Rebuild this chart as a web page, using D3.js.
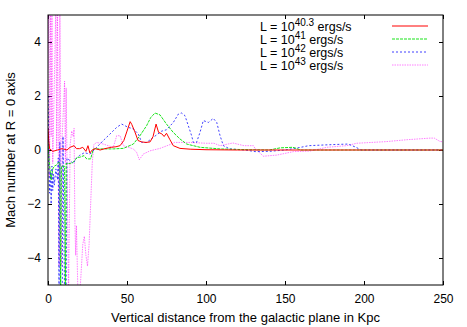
<!DOCTYPE html>
<html>
<head>
<meta charset="utf-8">
<script src="https://cdn.jsdelivr.net/npm/d3@7"></script>
<style>
    body { margin: 0; background: #fff; }
    text { font-family: "Liberation Sans", Arial, sans-serif; fill: #000; }
</style>
</head>
<body>
<div id="chart"></div>
<script>

// tick values
var xTicks = [0, 50, 100, 150, 200, 250];
var yTicks = [-4, -2, 0, 2, 4];

// legend exponents
var exponents = ["40.3", "41", "42", "43"];

// series: [distance (Kpc), Mach number]
var red = [[0,0.8],[0.5,0.3],[1,0.05],[3,-0.05],[6,0],[9,0.05],[12,0],[14,0.1],[16.5,0.16],[18,0.05],[20,0.05],
    [22,0.1],[24,-0.05],[25.3,0.16],[26.5,-0.11],[28,0],[30,0.05],[33,0],[36,0.05],[40,0.1],[43,0.12],[45.6,0.16],
    [48,0.35],[50,0.7],[52,1.05],[53,0.95],[55,0.67],[57,0.35],[59.3,0.3],[62,0.28],[64.6,0.3],[66.5,0.5],
    [68.4,0.96],[70,0.65],[72,0.6],[73.5,0.5],[75,0.62],[77,0.4],[79.3,0.16],[83.5,0.06],[90,0.03],[100,0.01],
    [120,0],[250,0]];

var green = [[0,0.3],[1,-0.6],[2,-1.1],[3,-0.7],[4,-0.6],[5.5,-0.55],[7,-0.45],[7.5,-0.5],[8,-5.5],[8.5,-0.6],
    [10.5,-0.6],[11,-5.5],[11.5,-0.5],[14,-0.5],[16,-0.45],[18.5,-0.27],[20,-0.27],[22.8,-0.21],[24.5,-0.33],
    [27,-0.33],[28.7,0.04],[35,0.04],[41.3,0.04],[47.7,0.06],[54,0.22],[58.2,0.53],[62.4,0.9],[65,1.2],
    [67.7,1.37],[70.9,1.3],[75,0.96],[79.3,0.65],[83.5,0.41],[87.8,0.22],[96.2,0.1],[108.9,0.04],[120,0.02],
    [140,0],[147,0.08],[155,0.1],[160,0],[250,0]];

var blue = [[0,2],[0.5,-0.5],[1,-1.6],[1.5,-0.8],[2,-2],[2.5,-0.6],[3,-1.5],[3.5,-0.9],[4,-1.3],[5,-0.7],
    [6,-1.1],[6.5,-0.3],[7,-5.5],[7.5,0.3],[8,-5.5],[9,-5.5],[9.5,0.5],[10.5,-5.5],[11.5,-5.5],[12,-0.3],
    [14,-0.4],[16,-0.5],[18,-0.3],[20,-0.2],[23,-0.1],[26.6,-0.15],[30.8,0.1],[35,0.35],[39.2,0.59],[43.5,0.84],
    [46.6,0.96],[50.8,0.84],[54,0.78],[57.2,0.59],[59.3,0.28],[62.4,0.28],[66.7,0.47],[72,0.7],[75,0.75],
    [79.3,1.02],[82.5,1.33],[84.6,1.37],[86.7,1.27],[88.8,0.9],[90.9,0.53],[92,0.28],[94,0.28],[96.2,0.65],
    [98.3,1.09],[101.5,1.02],[104.6,1.17],[106.8,1.02],[108.9,0.53],[111,0.16],[115,0.04],[125,0],[131,-0.06],
    [140,-0.05],[150,0],[160,0.1],[165,0.16],[180,0.2],[190,0.22],[195,0.1],[198,0],[250,0]];

var magenta = [[0,3],[0.5,5.5],[1,-1],[1.5,5.5],[2,0.5],[2.5,5.5],[3,-0.5],[5,5.5],[5.5,0],[6,5.5],[7,-4.3],
    [7.5,5.5],[8.5,-4.3],[9,0.5],[10.5,2.55],[11,-0.5],[11.5,2.3],[12,-0.3],[13,-5.5],[14,0.2],[15,0.7],[16,0.5],
    [16.5,0.8],[17,-2.6],[17.5,-3.9],[18,-2.8],[19,-5.5],[20,-5.5],[21,-4.5],[22,-3.5],[23,-3.2],[24,-3.9],
    [25,-4.3],[26,-3.5],[27,-2],[28,-0.5],[29,0.2],[30.8,0.28],[35,0.22],[41.3,0.1],[43.5,0.53],[45.6,0.53],
    [47.7,0.16],[54,0.04],[56.1,-0.09],[57.8,-0.36],[60.3,-0.15],[64.6,-0.03],[70.9,0.06],[77.2,0.2],[80,0.28],
    [90,0.28],[100,0.25],[105,0.25],[108.9,0.16],[117,0.26],[124,0.16],[130,0.16],[131,0.06],[136.3,-0.23],
    [144.7,-0.19],[155.3,-0.06],[165.8,-0.04],[176.4,0.1],[189,0.16],[195.4,0.25],[214,0.31],[227,0.38],
    [241.8,0.44],[244.5,0.44],[248,0.32],[250,0.3]];

var series = [
    {data: red, color: "#ff0000", dash: null, opacity: 1},
    {data: green, color: "#00e000", dash: "3,1", opacity: 0.9},
    {data: blue, color: "#2020ff", dash: "2,2", opacity: 0.85},
    {data: magenta, color: "#ff00ff", dash: "1.5,1", opacity: 0.5}
];

var width = 467, height = 327;
var margin = {top: 15, right: 24, bottom: 42, left: 48};
var innerW = width - margin.left - margin.right;
var innerH = height - margin.top - margin.bottom;

var x = d3.scaleLinear().domain([0, 250]).range([0, innerW]);
var y = d3.scaleLinear().domain([-5, 5]).range([innerH, 0]);

var svg = d3.select("#chart").append("svg")
    .attr("width", width)
    .attr("height", height);

var g = svg.append("g").attr("transform", `translate(${margin.left},${margin.top})`);

svg.append("defs").append("clipPath").attr("id", "clip")
    .append("rect").attr("width", innerW).attr("height", innerH);

// axes with inward ticks, mirrored on top/right
var tick = 4;
g.append("g").attr("transform", `translate(0,${innerH})`)
    .call(d3.axisBottom(x).tickValues(xTicks).tickSize(-tick).tickPadding(9))
    .call(a => a.select(".domain").remove());
g.append("g")
    .call(d3.axisTop(x).tickValues(xTicks).tickSize(-tick).tickFormat(""))
    .call(a => a.select(".domain").remove());
g.append("g")
    .call(d3.axisLeft(y).tickValues(yTicks).tickSize(-tick).tickPadding(7))
    .call(a => a.select(".domain").remove());
g.append("g").attr("transform", `translate(${innerW},0)`)
    .call(d3.axisRight(y).tickValues(yTicks).tickSize(-tick).tickFormat(""))
    .call(a => a.select(".domain").remove());

g.selectAll(".tick text").attr("font-size", 12).attr("font-family", "Liberation Sans, Arial, sans-serif");
g.selectAll(".tick line").attr("stroke", "#000");

// lines
var line = d3.line().x(d => x(d[0])).y(d => y(d[1]));

g.append("g").attr("clip-path", "url(#clip)")
    .selectAll("path")
    .data(series.slice().reverse())
    .join("path")
    .attr("fill", "none")
    .attr("stroke", d => d.color)
    .attr("stroke-width", 1)
    .attr("stroke-opacity", d => d.opacity)
    .attr("stroke-dasharray", d => d.dash)
    .attr("d", d => line(d.data));

// frame
g.append("rect")
    .attr("width", innerW).attr("height", innerH)
    .attr("fill", "none").attr("stroke", "#000").attr("stroke-width", 1);

// legend
var legend = g.append("g").attr("transform", "translate(212,0)");
var rows = legend.selectAll("g")
    .data(series)
    .join("g")
    .attr("transform", (d, i) => `translate(0,${11 + i * 13})`);

rows.append("line")
    .attr("x1", 132).attr("x2", 168)
    .attr("stroke", d => d.color)
    .attr("stroke-opacity", d => d.opacity)
    .attr("stroke-dasharray", d => d.dash);

var label = rows.append("text")
    .attr("x", 0).attr("y", 5)
    .attr("font-size", 12.5);
label.append("tspan").text("L = 10");
label.append("tspan").attr("dy", -5).attr("font-size", 10).text((d, i) => exponents[i]);
label.append("tspan").attr("dy", 5).text(" ergs/s");

// axis titles
svg.append("text")
    .attr("x", margin.left + innerW / 2).attr("y", 322)
    .attr("text-anchor", "middle").attr("font-size", 13)
    .text("Vertical distance from the galactic plane in Kpc");

svg.append("text")
    .attr("transform", `translate(15,${margin.top + innerH / 2}) rotate(-90)`)
    .attr("text-anchor", "middle").attr("font-size", 13)
    .text("Mach number at R = 0 axis");

</script>
</body>
</html>
